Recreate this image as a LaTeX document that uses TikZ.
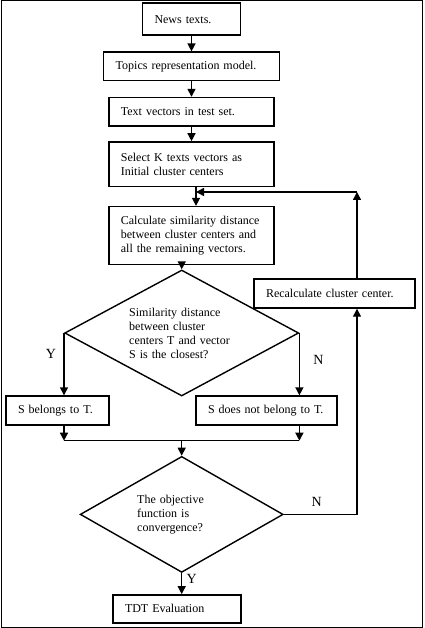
\documentclass[tikz,border=0pt]{standalone}
\usepackage{fontspec}
\setmainfont{Liberation Serif}
\usetikzlibrary{arrows.meta, positioning, shapes}

\begin{document}
\begin{tikzpicture}[x=1pt, y=-1pt, auto, line width=1.4pt,
    font=\fontsize{12}{14}\selectfont,
    >={Triangle[length=8pt, width=8pt]},
    box/.style={rectangle, draw, inner xsep=12pt, inner ysep=2pt, align=left},
    decision/.style={diamond, draw, inner sep=0pt, align=left, shape aspect=1.8},
    answer/.style={font=\fontsize{14}{16}\selectfont}]

    \useasboundingbox (0,0) rectangle (424,628);
    \draw[line width=1pt] (1,1) rectangle (422.5,627);

    \node (NewsTexts) [box, text width=74pt, minimum height=32pt] at (191.5,19.2) {News texts.};
    \node (TopicsModel) [box, text width=151.6pt, minimum height=28.6pt, below=15.5pt of NewsTexts] {Topics representation model.};
    \node (TextVectors) [box, text width=141.3pt, minimum height=28.6pt, below=15.4pt of TopicsModel] {Text vectors in test set.};
    \node (SelectK) [box, text width=141.3pt, minimum height=44.6pt, below=14.4pt of TextVectors] {Select K texts vectors as\\Initial cluster centers};
    \node (Calculate) [box, text width=141.3pt, minimum height=58pt, below=18.7pt of SelectK] {Calculate similarity distance\\between cluster centers and\\all the remaining vectors.};

    \draw[->] (NewsTexts) -- (TopicsModel);
    \draw[->] (TopicsModel) -- (TextVectors);
    \draw[->] (TextVectors) -- (SelectK);

    \node (Closest) [decision, text width=105pt, minimum width=234pt, minimum height=126pt] at (181.7,333) {Similarity distance\\between cluster\\centers T and vector\\S is the closest?};
    \node (Belongs) [box, text width=79pt, minimum height=29pt] at (57.5,410.5) {S belongs to T.};
    \node (NotBelongs) [box, text width=117pt, minimum height=29pt] at (266.5,410.5) {S does not belong to T.};
    \node (Recalculate) [box, text width=137pt, minimum height=29pt] at (334.5,293.5) {Recalculate cluster center.};

    \node (Converge) [decision, text width=89pt, minimum width=203pt, minimum height=116pt, below=59pt of Closest] {The objective\\function is\\convergence?};
    \node (Evaluation) [box, text width=104pt, minimum height=28pt, below=21pt of Converge, xshift=-4.7pt] {TDT Evaluation};

    \coordinate (Corner) at (357,192);
    \coordinate (Merge) at (196,192);
    \path (Closest.west |- Belongs.south) ++(0,15) coordinate (JoinL);
    \path (Closest.east |- NotBelongs.south) ++(0,15) coordinate (JoinR);

    \draw[->] (Merge |- SelectK.south) -- (Merge |- Calculate.north);
    \draw[->] (Closest.north |- Calculate.south) -- (Closest.north);

    \draw[->] (Closest.west) -- node[answer, left=4pt, pos=0.33] {Y} (Closest.west |- Belongs.north);
    \draw[->] (Closest.east) -- node[answer, right=10pt, pos=0.43] {N} (Closest.east |- NotBelongs.north);

    \draw[->] (Closest.west |- Belongs.south) -- (JoinL);
    \draw[->] (Closest.east |- NotBelongs.south) -- (JoinR);
    \draw (JoinL) -- (JoinR);
    \draw[->] (Converge.north |- JoinL) -- (Converge.north);

    \draw[->] (Converge.east) -- node[answer, above=4pt, pos=0.45] {N} (Converge.east -| Corner) -- (Corner |- Recalculate.south);
    \draw[->] (Corner |- Recalculate.north) -- (Corner);
    \draw[->] (Corner) -- (Merge);

    \draw[->] (Converge.south) -- node[answer, right=1pt, pos=0.3] {Y} (Converge.south |- Evaluation.north);

\end{tikzpicture}
\end{document}
